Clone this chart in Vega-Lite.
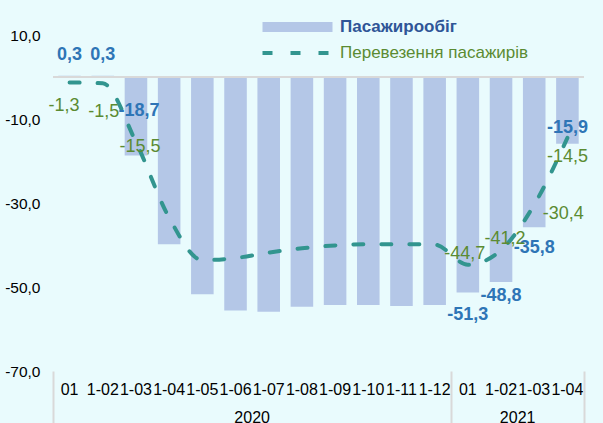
{
  "$schema": "https://vega.github.io/schema/vega-lite/v6.json",
  "width": 531,
  "height": 336,
  "autosize": {"type": "none"},
  "padding": {"left": 53, "top": 35, "right": 19, "bottom": 52},
  "background": "#e9fbfd",
  "config": {
    "view": {"stroke": null},
    "font": "Liberation Sans",
    "locale": {"number": {"decimal": ",", "thousands": " ", "grouping": [3], "currency": ["", ""], "minus": "-"}},
    "legend": {"padding": 0, "orient": "none", "titlePadding": 0, "labelLimit": 400},
    "axis": {"grid": false, "labelFont": "Liberation Sans", "labelColor": "#000000", "labelFontSize": 15.5}
  },
  "data": {"values": [
    {"key": "01|2020", "pax": 0.3, "trans": -1.3},
    {"key": "1-02|2020", "pax": 0.3, "trans": -1.5},
    {"key": "1-03|2020", "pax": -18.7, "trans": -15.5},
    {"key": "1-04|2020", "pax": -39.8, "trans": -33.5},
    {"key": "1-05|2020", "pax": -51.7, "trans": -43.6},
    {"key": "1-06|2020", "pax": -55.6, "trans": -43.1},
    {"key": "1-07|2020", "pax": -55.9, "trans": -41.8},
    {"key": "1-08|2020", "pax": -54.7, "trans": -40.8},
    {"key": "1-09|2020", "pax": -54.3, "trans": -40.1},
    {"key": "1-10|2020", "pax": -54.3, "trans": -39.8},
    {"key": "1-11|2020", "pax": -54.5, "trans": -39.8},
    {"key": "1-12|2020", "pax": -54.3, "trans": -39.9},
    {"key": "01|2021", "pax": -51.3, "trans": -44.7},
    {"key": "1-02|2021", "pax": -48.8, "trans": -41.2},
    {"key": "1-03|2021", "pax": -35.8, "trans": -30.4},
    {"key": "1-04|2021", "pax": -15.9, "trans": -14.5}
  ]},
  "layer": [
    {
      "mark": {"type": "bar", "width": {"band": 0.68}},
      "encoding": {
        "x": {"field": "key", "type": "nominal", "sort": null,
          "scale": {"paddingInner": 0, "paddingOuter": 0},
          "axis": {"orient": "bottom", "title": null, "domain": false, "ticks": false, "labelAngle": 0, "labelOverlap": false,
            "labelExpr": "split(datum.label, '|')[0]", "labelPadding": 10, "labelFontSize": 16}},
        "y": {"field": "pax", "type": "quantitative", "scale": {"domain": [-70, 10], "nice": false, "zero": false},
          "axis": {"orient": "left", "title": null, "values": [10, -10, -30, -50, -70], "format": ".1f", "domain": false, "ticks": false, "labelPadding": 13}},
        "color": {"datum": "Пасажирообіг", "type": "nominal", "scale": {"range": ["#b4c7e7"]},
          "legend": {"title": null, "orient": "none", "legendX": 209.5, "legendY": -43,
            "symbolType": "M-1,-0.143H1V0.143H-1Z", "symbolSize": 4900, "symbolStrokeWidth": 0,
            "labelFontSize": 17, "labelFontWeight": "bold", "labelColor": "#2f5597", "labelOffset": 7.5}}
      }
    },
    {
      "mark": {"type": "rule", "color": "#d9d9d9", "strokeWidth": 2},
      "encoding": {"y": {"datum": 0, "type": "quantitative", "axis": null}}
    },
    {
      "mark": {"type": "line", "color": "#32958f", "strokeWidth": 4, "strokeCap": "round", "interpolate": "monotone"},
      "encoding": {
        "x": {"field": "key", "type": "nominal", "sort": null,
          "axis": {"orient": "bottom", "title": null, "domain": false, "labels": false, "ticks": true, "tickBand": "extent",
            "values": ["01|2020", "1-12|2020", "1-04|2021"], "tickSize": 53, "tickWidth": 2,
            "tickColor": {"condition": {"test": "datum.value === '01|2020'", "value": "rgba(0,0,0,0)"}, "value": "#d9d9d9"}}},
        "y": {"field": "trans", "type": "quantitative", "axis": null},
        "strokeDash": {"datum": "Перевезення пасажирів", "type": "nominal", "scale": {"range": [[10, 18]]},
          "legend": {"title": null, "orient": "none", "legendX": 207.5, "legendY": -19,
            "symbolType": "stroke", "symbolSize": 4900, "symbolStrokeWidth": 4, "symbolStrokeColor": "#32958f", "symbolDash": [14, 13],
            "labelFontSize": 17, "labelColor": "#5b8b32", "labelOffset": 5.5}}
      }
    },
    {
      "transform": [{"filter": {"field": "key", "oneOf": ["01|2020", "1-02|2020"]}}],
      "mark": {"type": "text", "fontSize": 18, "fontWeight": "bold", "color": "#2e75b6", "baseline": "middle", "dy": -21},
      "encoding": {
        "x": {"field": "key", "type": "nominal", "sort": null,
          "axis": {"orient": "bottom", "title": null, "domain": false, "ticks": false, "labelAngle": 0,
            "values": ["1-06|2020", "1-02|2021"], "labelExpr": "split(datum.label, '|')[1]", "labelOffset": 16.6, "labelPadding": 38, "labelFontSize": 16}},
        "y": {"field": "pax", "type": "quantitative", "axis": null},
        "text": {"field": "pax", "type": "quantitative", "format": ".1f"}
      }
    },
    {
      "transform": [{"filter": {"field": "key", "equal": "1-03|2020"}}],
      "mark": {"type": "text", "fontSize": 18, "fontWeight": "bold", "color": "#2e75b6", "baseline": "middle", "dy": -45, "dx": 3},
      "encoding": {
        "x": {"field": "key", "type": "nominal", "sort": null, "axis": null},
        "y": {"field": "pax", "type": "quantitative", "axis": null},
        "text": {"field": "pax", "type": "quantitative", "format": ".1f"}
      }
    },
    {
      "transform": [{"filter": {"field": "key", "equal": "01|2021"}}],
      "mark": {"type": "text", "fontSize": 18, "fontWeight": "bold", "color": "#2e75b6", "baseline": "middle", "dy": 23},
      "encoding": {
        "x": {"field": "key", "type": "nominal", "sort": null, "axis": null},
        "y": {"field": "pax", "type": "quantitative", "axis": null},
        "text": {"field": "pax", "type": "quantitative", "format": ".1f"}
      }
    },
    {
      "transform": [{"filter": {"field": "key", "equal": "1-02|2021"}}],
      "mark": {"type": "text", "fontSize": 18, "fontWeight": "bold", "color": "#2e75b6", "baseline": "middle", "dy": 14},
      "encoding": {
        "x": {"field": "key", "type": "nominal", "sort": null, "axis": null},
        "y": {"field": "pax", "type": "quantitative", "axis": null},
        "text": {"field": "pax", "type": "quantitative", "format": ".1f"}
      }
    },
    {
      "transform": [{"filter": {"field": "key", "equal": "1-03|2021"}}],
      "mark": {"type": "text", "fontSize": 18, "fontWeight": "bold", "color": "#2e75b6", "baseline": "middle", "dy": 20.5},
      "encoding": {
        "x": {"field": "key", "type": "nominal", "sort": null, "axis": null},
        "y": {"field": "pax", "type": "quantitative", "axis": null},
        "text": {"field": "pax", "type": "quantitative", "format": ".1f"}
      }
    },
    {
      "transform": [{"filter": {"field": "key", "equal": "1-04|2021"}}],
      "mark": {"type": "text", "fontSize": 18, "fontWeight": "bold", "color": "#2e75b6", "baseline": "middle", "dy": -16},
      "encoding": {
        "x": {"field": "key", "type": "nominal", "sort": null, "axis": null},
        "y": {"field": "pax", "type": "quantitative", "axis": null},
        "text": {"field": "pax", "type": "quantitative", "format": ".1f"}
      }
    },
    {
      "transform": [{"filter": {"field": "key", "equal": "01|2020"}}],
      "mark": {"type": "text", "fontSize": 18, "color": "#5b8b32", "baseline": "middle", "dy": 23.5, "dx": -5.5},
      "encoding": {
        "x": {"field": "key", "type": "nominal", "sort": null, "axis": null},
        "y": {"field": "trans", "type": "quantitative", "axis": null},
        "text": {"field": "trans", "type": "quantitative", "format": ".1f"}
      }
    },
    {
      "transform": [{"filter": {"field": "key", "equal": "1-02|2020"}}],
      "mark": {"type": "text", "fontSize": 18, "color": "#5b8b32", "baseline": "middle", "dy": 29, "dx": 1},
      "encoding": {
        "x": {"field": "key", "type": "nominal", "sort": null, "axis": null},
        "y": {"field": "trans", "type": "quantitative", "axis": null},
        "text": {"field": "trans", "type": "quantitative", "format": ".1f"}
      }
    },
    {
      "transform": [{"filter": {"field": "key", "equal": "1-03|2020"}}],
      "mark": {"type": "text", "fontSize": 18, "color": "#5b8b32", "baseline": "middle", "dy": 4.5, "dx": 4},
      "encoding": {
        "x": {"field": "key", "type": "nominal", "sort": null, "axis": null},
        "y": {"field": "trans", "type": "quantitative", "axis": null},
        "text": {"field": "trans", "type": "quantitative", "format": ".1f"}
      }
    },
    {
      "transform": [{"filter": {"field": "key", "equal": "01|2021"}}],
      "mark": {"type": "text", "fontSize": 18, "color": "#5b8b32", "baseline": "middle", "dy": -11, "dx": -3},
      "encoding": {
        "x": {"field": "key", "type": "nominal", "sort": null, "axis": null},
        "y": {"field": "trans", "type": "quantitative", "axis": null},
        "text": {"field": "trans", "type": "quantitative", "format": ".1f"}
      }
    },
    {
      "transform": [{"filter": {"field": "key", "equal": "1-02|2021"}}],
      "mark": {"type": "text", "fontSize": 18, "color": "#5b8b32", "baseline": "middle", "dy": -11, "dx": 4},
      "encoding": {
        "x": {"field": "key", "type": "nominal", "sort": null, "axis": null},
        "y": {"field": "trans", "type": "quantitative", "axis": null},
        "text": {"field": "trans", "type": "quantitative", "format": ".1f"}
      }
    },
    {
      "transform": [{"filter": {"field": "key", "equal": "1-03|2021"}}],
      "mark": {"type": "text", "fontSize": 18, "color": "#5b8b32", "baseline": "middle", "dy": 9, "dx": 29},
      "encoding": {
        "x": {"field": "key", "type": "nominal", "sort": null, "axis": null},
        "y": {"field": "trans", "type": "quantitative", "axis": null},
        "text": {"field": "trans", "type": "quantitative", "format": ".1f"}
      }
    },
    {
      "transform": [{"filter": {"field": "key", "equal": "1-04|2021"}}],
      "mark": {"type": "text", "fontSize": 18, "color": "#5b8b32", "baseline": "middle", "dy": 19},
      "encoding": {
        "x": {"field": "key", "type": "nominal", "sort": null, "axis": null},
        "y": {"field": "trans", "type": "quantitative", "axis": null},
        "text": {"field": "trans", "type": "quantitative", "format": ".1f"}
      }
    }
  ],
  "resolve": {"axis": {"x": "independent", "y": "independent"}}
}
